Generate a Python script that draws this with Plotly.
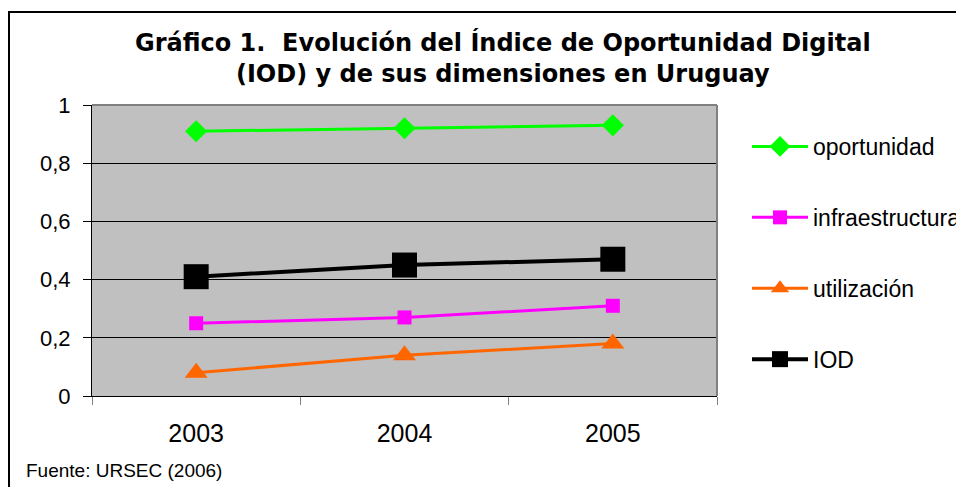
import plotly.graph_objects as go

years = ["2003", "2004", "2005"]
oportunidad = [0.91, 0.92, 0.93]
infraestructura = [0.25, 0.27, 0.31]
utilizacion = [0.08, 0.14, 0.18]
iod = [0.41, 0.45, 0.47]
y_ticks = [0, 0.2, 0.4, 0.6, 0.8, 1]

series = [
    ("oportunidad", oportunidad, "#00FF00", "diamond", 17, 3),
    ("infraestructura", infraestructura, "#FF00FF", "square", 14, 3),
    ("utilización", utilizacion, "#FF6600", "triangle-up", 20, 3),
    ("IOD", iod, "#000000", "square", 25, 4),
]

fig = go.Figure()
for name, vals, color, sym, size, lw in series:
    fig.add_trace(go.Scatter(
        x=years, y=vals, name=name, legendgroup=name,
        mode="lines+markers",
        line=dict(color=color, width=lw),
        marker=dict(symbol=sym, size=size, color=color, line=dict(width=0)),
        cliponaxis=False,
    ))

# page body has an 8px margin; work in reference pixel coordinates
OFF = 8
W, H = 964 - OFF, 487 - OFF
PL, PR, PT, PB = 92, 717, 105, 396          # plot area in reference pixels
L, T = PL - OFF, PT - OFF
R = W - (PR - OFF)
B = H - (PB - OFF)
pw = PR - PL
ph = PB - PT

def px_x(x):
    return (x - PL) / pw

def px_y(y):
    return (PB - y) / ph

def cx(x):
    return (x - OFF) / W

def cy(y):
    return 1 - (y - OFF) / H

FONT = "Liberation Sans, Arial"

fig.update_layout(
    width=W, height=H,
    margin=dict(l=L, r=R, t=T, b=B, pad=0, autoexpand=False),
    paper_bgcolor="white",
    plot_bgcolor="#C0C0C0",
    separators=",.",
    font=dict(family=FONT, color="black", size=20),
    showlegend=True,
    legend=dict(
        x=cx(747), y=cy(125), xanchor="left", yanchor="top",
        xref="container", yref="container",
        font=dict(family=FONT, size=23, color="black"),
        tracegroupgap=38,
        itemwidth=56,
        maxheight=400,
        bgcolor="rgba(0,0,0,0)",
    ),
    xaxis=dict(
        type="category",
        range=[-0.5, len(years) - 0.5],
        tickson="boundaries",
        ticks="outside", ticklen=8, tickcolor="#808080", tickwidth=1,
        showline=True, linecolor="black", linewidth=1,
        showgrid=False,
        tickfont=dict(family=FONT, size=25),
        ticklabelstandoff=15,
    ),
    yaxis=dict(
        range=[0, 1], tickvals=y_ticks,
        ticks="outside", ticklen=8, tickcolor="black",
        showline=True, linecolor="black", linewidth=1,
        showgrid=True, gridcolor="black", gridwidth=1,
        zeroline=False,
        tickfont=dict(family=FONT, size=22),
        ticklabelstandoff=8,
    ),
    annotations=[
        dict(
            text="<b>Gráfico 1.  Evolución del Índice de Oportunidad Digital<br>(IOD) y de sus dimensiones en Uruguay</b>",
            xref="paper", yref="paper",
            x=px_x(503), y=px_y(58), xanchor="center", yanchor="middle",
            showarrow=False,
            font=dict(family="DejaVu Sans", size=24, color="black"),
        ),
        dict(
            text="Fuente: URSEC (2006)",
            xref="paper", yref="paper",
            x=px_x(24), y=px_y(470), xanchor="left", yanchor="middle",
            showarrow=False,
            font=dict(family=FONT, size=19, color="black"),
        ),
    ],
    shapes=[
        dict(type="rect", xref="paper", yref="paper",
             x0=px_x(9), x1=px_x(1100), y0=px_y(600), y1=px_y(12),
             line=dict(color="black", width=2), layer="above"),
        dict(type="line", xref="paper", yref="paper",
             x0=0, x1=1, y0=1, y1=1,
             line=dict(color="#808080", width=2), layer="above"),
        dict(type="line", xref="paper", yref="paper",
             x0=1, x1=1, y0=0, y1=1,
             line=dict(color="#808080", width=2), layer="above"),
    ],
)

fig.write_html("out.html")
